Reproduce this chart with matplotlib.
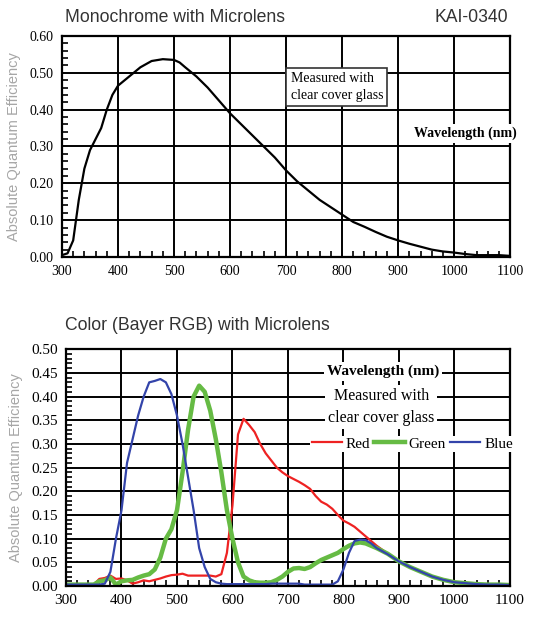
import numpy as np
import matplotlib.pyplot as plt
from matplotlib.ticker import MultipleLocator

# monochrome QE
mono_wl = [300, 310, 320, 330, 340, 350, 360, 370, 380, 390, 400, 420, 440, 460, 480, 500,
           510, 520, 540, 560, 580, 600, 620, 640, 660, 680, 700, 720, 740, 760, 780, 800,
           820, 840, 860, 880, 900, 920, 940, 960, 980, 1000, 1020, 1040, 1060, 1080, 1100]
mono_qe = [0.005, 0.01, 0.045, 0.155, 0.24, 0.29, 0.32, 0.35, 0.40, 0.44, 0.465, 0.49, 0.515,
           0.532, 0.537, 0.535, 0.528, 0.515, 0.49, 0.46, 0.425, 0.39, 0.36, 0.33, 0.30, 0.27,
           0.235, 0.205, 0.18, 0.155, 0.135, 0.115, 0.095, 0.082, 0.068, 0.055, 0.045, 0.036,
           0.028, 0.02, 0.015, 0.012, 0.008, 0.005, 0.005, 0.005, 0.003]

# colour QE
rgb_wl = [300, 350, 360, 370, 380, 390, 400, 410, 420, 430, 440, 450, 460, 470, 480, 490,
          500, 510, 520, 530, 540, 550, 560, 570, 580, 590, 600, 610, 620, 630, 640, 650,
          660, 670, 680, 690, 700, 710, 720, 730, 740, 750, 760, 770, 780, 790, 800, 810,
          820, 830, 840, 850, 860, 880, 900, 920, 940, 960, 980, 1000, 1020, 1040, 1060,
          1080, 1100]
red = [0.003, 0.003, 0.015, 0.017, 0.022, 0.015, 0.016, 0.012, 0.005, 0.008, 0.012, 0.010,
       0.013, 0.016, 0.020, 0.023, 0.024, 0.026, 0.022, 0.022, 0.022, 0.022, 0.022, 0.020,
       0.025, 0.07, 0.17, 0.32, 0.353, 0.34, 0.325, 0.30, 0.28, 0.265, 0.25, 0.24, 0.232,
       0.226, 0.22, 0.213, 0.205, 0.19, 0.178, 0.172, 0.163, 0.15, 0.138, 0.132, 0.125,
       0.115, 0.105, 0.095, 0.085, 0.068, 0.053, 0.04, 0.03, 0.02, 0.014, 0.009, 0.006,
       0.004, 0.003, 0.003, 0.002]
green = [0.003, 0.003, 0.01, 0.012, 0.018, 0.003, 0.01, 0.012, 0.013, 0.018, 0.022, 0.025,
         0.035, 0.06, 0.10, 0.12, 0.16, 0.24, 0.33, 0.40, 0.423, 0.41, 0.37, 0.31, 0.24,
         0.16, 0.10, 0.05, 0.02, 0.012, 0.008, 0.007, 0.007, 0.008, 0.013, 0.02, 0.03, 0.037,
         0.038, 0.036, 0.04, 0.048, 0.055, 0.06, 0.065, 0.07, 0.078, 0.085, 0.09, 0.092,
         0.09, 0.085, 0.08, 0.068, 0.052, 0.04, 0.03, 0.02, 0.013, 0.008, 0.006, 0.004,
         0.003, 0.003, 0.002]
blue = [0.003, 0.003, 0.003, 0.005, 0.03, 0.10, 0.16, 0.26, 0.31, 0.36, 0.40, 0.43, 0.433,
        0.437, 0.43, 0.405, 0.36, 0.30, 0.23, 0.16, 0.08, 0.04, 0.015, 0.008, 0.005, 0.004,
        0.004, 0.004, 0.004, 0.004, 0.004, 0.004, 0.004, 0.005, 0.005, 0.005, 0.005, 0.005,
        0.005, 0.003, 0.003, 0.003, 0.003, 0.003, 0.003, 0.01, 0.035, 0.07, 0.095, 0.098,
        0.097, 0.09, 0.08, 0.067, 0.052, 0.04, 0.03, 0.02, 0.013, 0.008, 0.006, 0.004,
        0.003, 0.003, 0.002]

serif = "Liberation Serif"
sans = "Liberation Sans"

fig = plt.figure(figsize=(5.38, 6.2), dpi=100)
ax1 = fig.add_axes([0.1152, 0.5855, 0.833, 0.3565])
ax2 = fig.add_axes([0.1227, 0.0548, 0.825, 0.382])


def style(ax, ymax, ymaj, ymin, fs):
    ax.set_xlim(300, 1100)
    ax.set_ylim(0, ymax)
    ax.xaxis.set_major_locator(MultipleLocator(100))
    ax.xaxis.set_minor_locator(MultipleLocator(20))
    ax.yaxis.set_major_locator(MultipleLocator(ymaj))
    ax.yaxis.set_minor_locator(MultipleLocator(ymin))
    ax.grid(True, which="major", color="black", lw=1.4)
    ax.tick_params(which="both", direction="in", length=0, labelsize=fs, pad=6)
    ax.tick_params(which="minor", length=4, width=1.2, top=False, right=False)
    for s in ax.spines.values():
        s.set_linewidth(1.6)
    for lab in ax.get_xticklabels() + ax.get_yticklabels():
        lab.set_fontfamily(serif)
    ax.set_ylabel("Absolute Quantum Efficiency", family=sans, color="#a6a6a6",
                  fontsize=10.5, labelpad=6)


ax1.plot(mono_wl, mono_qe, color="black", lw=1.6)
style(ax1, 0.6, 0.1, 0.02, 10)
ax1.yaxis.set_major_formatter(lambda v, p: f"{v:.2f}")
ax1.text(0.51, 0.77, "Measured with\nclear cover glass", transform=ax1.transAxes,
         family=serif, fontsize=10, va="center", ha="left", linespacing=1.4,
         bbox=dict(facecolor="white", edgecolor="#333333", lw=1.2, boxstyle="square,pad=0.3"))
ax1.text(0.90, 0.56, "Wavelength (nm)", transform=ax1.transAxes, family=serif,
         fontsize=10, weight="bold", ha="center", va="center",
         bbox=dict(facecolor="white", edgecolor="none", pad=2))

ax2.plot(rgb_wl, red, color="#ee2222", lw=1.6, label="Red")
ax2.plot(rgb_wl, green, color="#66bb44", lw=3.2, label="Green")
ax2.plot(rgb_wl, blue, color="#3344aa", lw=1.6, label="Blue")
style(ax2, 0.5, 0.05, 0.01, 11)
ax2.yaxis.set_major_formatter(lambda v, p: f"{v:.2f}")
ax2.text(0.715, 0.905, "Wavelength (nm)", transform=ax2.transAxes, family=serif,
         fontsize=11, weight="bold", ha="center", va="center",
         bbox=dict(facecolor="white", edgecolor="none", pad=2))
ax2.text(0.71, 0.755, "Measured with\nclear cover glass", transform=ax2.transAxes,
         family=serif, fontsize=11.5, ha="center", va="center", linespacing=1.5,
         bbox=dict(facecolor="white", edgecolor="none", pad=2))
ax2.legend(loc="center", bbox_to_anchor=(0.78, 0.60), ncol=3, frameon=True,
           facecolor="white", edgecolor="none", framealpha=1, fancybox=False,
           prop=dict(family=serif, size=11), handlelength=2.0, handletextpad=0.25,
           columnspacing=0.25, borderpad=0.1, borderaxespad=0)

fig.text(0.121, 0.972, "Monochrome with Microlens", family=sans, fontsize=12.7,
         color="#333333", va="center")
fig.text(0.945, 0.972, "KAI-0340", family=sans, fontsize=12.7, color="#333333",
         va="center", ha="right")
fig.text(0.121, 0.475, "Color (Bayer RGB) with Microlens", family=sans, fontsize=12.7,
         color="#333333", va="center")

fig.savefig("out.png", dpi=100)
